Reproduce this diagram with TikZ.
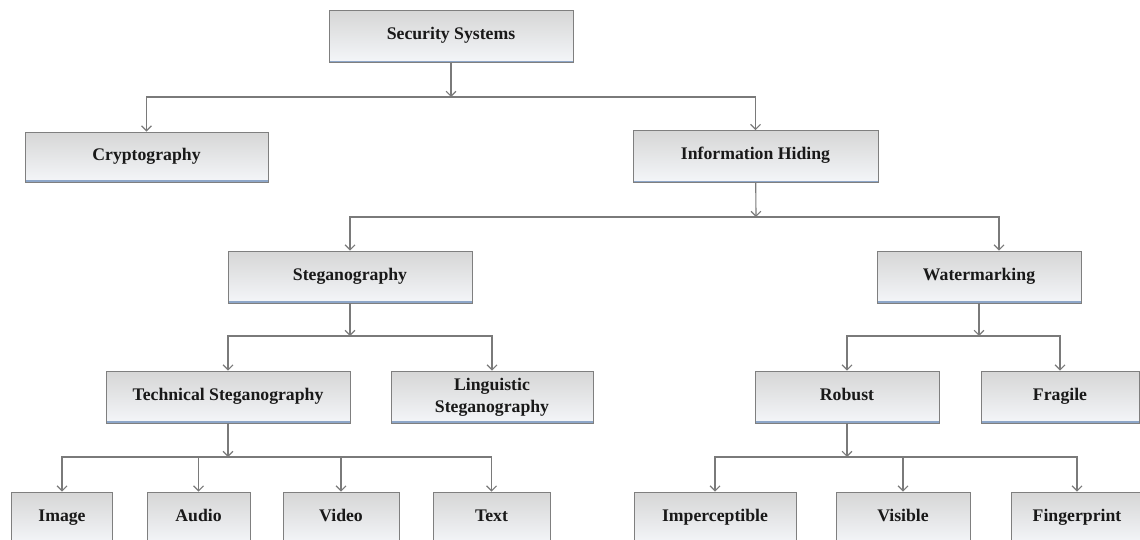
\documentclass[tikz,border=0pt]{standalone}
\usepackage{fontspec}
\setmainfont{Liberation Serif}
\usepackage{xcolor}
\usetikzlibrary{arrows.meta,positioning,calc}

\definecolor{boxline}{HTML}{7F7F7F}
\definecolor{boxtop}{HTML}{D6D6D6}
\definecolor{boxbot}{HTML}{F4F6F9}
\definecolor{boxblue}{HTML}{8DA6C8}
\definecolor{arrgray}{HTML}{7A7A7A}

\begin{document}
\begin{tikzpicture}[
    box/.style={draw=boxline, line width=0.6pt, top color=boxtop, bottom color=boxbot,
      minimum height=1.3cm, inner sep=0pt, align=center, text=black!90,
      text height=0.7em, text depth=0.22em,
      font=\bfseries\fontsize{12.6}{15.5}\selectfont,
      path picture={\draw[boxblue, line width=2.2pt]
        (path picture bounding box.south west) -- (path picture bounding box.south east);}},
    arr/.style={-{Straight Barb[length=3.5pt, width=7pt]}, draw=arrgray, line width=0.8pt}
  ]
    \useasboundingbox (0,0) rectangle (28.5,-13.475);
    \clip (0,0) rectangle (28.5,-13.475);

    %% ---- Level 1 and 2 ----
    \node[box, minimum width=6.1cm]   (sec)  at (11.275,-0.9125) {Security Systems};
    \node[box, minimum width=6.075cm, minimum height=1.25cm] (cry) at (3.6625,-3.925) {Cryptography};
    \node[box, minimum width=6.125cm] (hid)  at (18.8875,-3.9125) {Information Hiding};

    \coordinate (b1) at (11.275,-2.425);
    \draw[arr] (sec) -- (b1);
    \draw[arr] (b1) -| (cry);
    \draw[arr] (b1) -| (hid);

    %% ---- Level 3 ----
    \node[box, minimum width=6.1cm] (steg) at (8.75,-6.925)  {Steganography};
    \node[box, minimum width=5.1cm] (wat)  at (24.475,-6.925) {Watermarking};

    \coordinate (b2) at (18.9,-5.425);
    \draw[arr] (hid) -- (b2);
    \draw[arr] (b2) -| (steg);
    \draw[arr] (b2) -| ([xshift=0.5cm]wat.north);

    %% ---- Level 4 ----
    \node[box, minimum width=6.1cm]  (tech) at (5.7,-9.925)   {Technical Steganography};
    \node[box, minimum width=5.05cm, text height=, text depth=] (ling) at (12.3,-9.925) {Linguistic\\Steganography};
    \node[box, minimum width=4.6cm]  (rob)  at (21.175,-9.925) {Robust};
    \node[box, minimum width=3.95cm] (fra)  at (26.5,-9.925)  {Fragile};

    \coordinate (b3l) at (8.75,-8.4);
    \coordinate (b3r) at (24.475,-8.4);
    \draw[arr] (steg) -- (b3l);
    \draw[arr] (b3l) -| (tech);
    \draw[arr] (b3l) -| (ling);
    \draw[arr] (wat) -- (b3r);
    \draw[arr] (b3r) -| (rob);
    \draw[arr] (b3r) -| (fra);

    %% ---- Level 5 (cut off at the bottom edge) ----
    \node[box, minimum width=2.525cm] (img) at (1.55,-12.95)    {Image};
    \node[box, minimum width=2.575cm] (aud) at (4.9625,-12.95)  {Audio};
    \node[box, minimum width=2.9cm]   (vid) at (8.525,-12.95)   {Video};
    \node[box, minimum width=2.925cm] (txt) at (12.2875,-12.95) {Text};
    \node[box, minimum width=4.05cm]  (imp) at (17.875,-12.95)  {Imperceptible};
    \node[box, minimum width=3.35cm]  (vis) at (22.575,-12.95)  {Visible};
    \node[box, minimum width=3.3cm]   (fin) at (26.925,-12.95)  {Fingerprint};

    \coordinate (b4l) at (5.7,-11.425);
    \coordinate (b4r) at (21.175,-11.425);
    \draw[arr] (tech) -- (b4l);
    \foreach \n in {img,aud,vid,txt}
      \draw[arr] (b4l) -| (\n);
    \draw[arr] (rob) -- (b4r);
    \foreach \n in {imp,vis,fin}
      \draw[arr] (b4r) -| (\n);
  \end{tikzpicture}
\end{document}
